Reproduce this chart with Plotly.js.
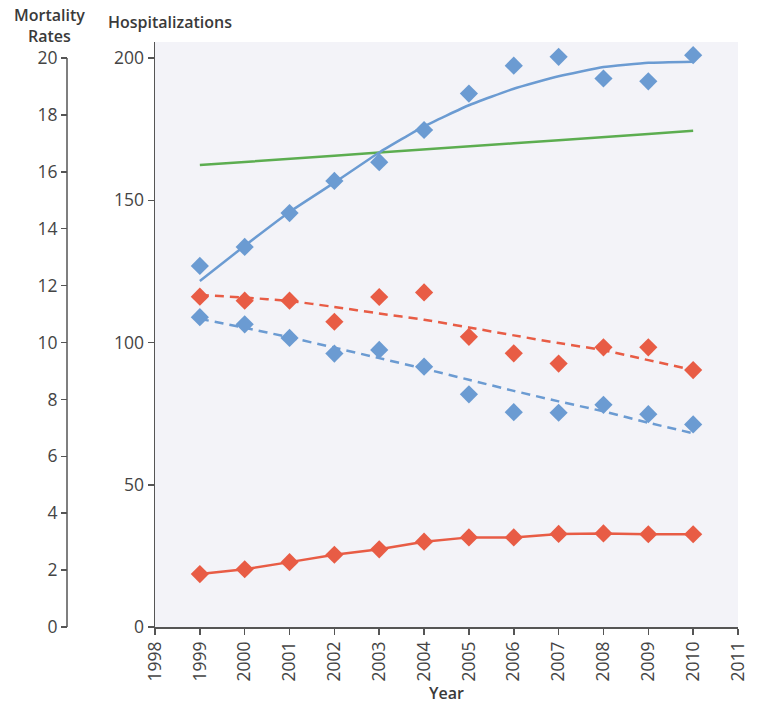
<!DOCTYPE html>
<html>
<head>
<meta charset="utf-8">
<script src="https://cdn.plot.ly/plotly-3.0.1.min.js"></script>
<style>
  html, body { margin: 0; padding: 0; background: #fff; }
  #grafico { width: 762px; height: 710px; }
</style>
</head>
<body>
<div id="grafico"></div>
<script>
// años
const years = [1999, 2000, 2001, 2002, 2003, 2004, 2005, 2006, 2007, 2008, 2009, 2010];

// hospitalizaciones (eje interno, 0-200)
const hospAzulPuntos = [126.9, 133.6, 145.5, 156.8, 163.4, 174.7, 187.5, 197.3, 200.4, 192.8, 191.8, 201.0];
const hospAzulAjuste = [121.6, 134.0, 145.9, 156.2, 166.8, 176.0, 183.4, 189.2, 193.6, 196.8, 198.3, 198.7];
const hospVerde = [162.4, 163.4, 164.6, 165.6, 166.8, 167.8, 168.9, 170.0, 171.1, 172.3, 173.3, 174.4];
const hospRojo = [18.6, 20.3, 22.8, 25.4, 27.3, 30.0, 31.5, 31.5, 32.7, 32.9, 32.6, 32.6];

// mortalidad (eje izquierdo, 0-20)
const mortRojoPuntos = [11.61, 11.47, 11.47, 10.73, 11.60, 11.76, 10.20, 9.62, 9.26, 9.83, 9.83, 9.03];
const mortRojoAjuste = [11.67, 11.58, 11.46, 11.25, 11.02, 10.80, 10.53, 10.25, 9.98, 9.73, 9.38, 9.03];
const mortAzulPuntos = [10.89, 10.64, 10.16, 9.61, 9.74, 9.15, 8.18, 7.55, 7.53, 7.81, 7.48, 7.12];
const mortAzulAjuste = [10.83, 10.52, 10.18, 9.82, 9.45, 9.08, 8.69, 8.30, 7.93, 7.58, 7.18, 6.81];

const xTicks = [1998, 1999, 2000, 2001, 2002, 2003, 2004, 2005, 2006, 2007, 2008, 2009, 2010, 2011];
const hospTicks = [0, 50, 100, 150, 200];
const mortTicks = [0, 2, 4, 6, 8, 10, 12, 14, 16, 18, 20];

const AZUL = "#6b9bd2";
const ROJO = "#e85c45";
const VERDE = "#5cad50";
const EJE = "#555";
const TEXTO = "#3a3a3a";
const W = 762, H = 710;

const diamante = (color) => ({ symbol: "diamond", size: 14, color: color, line: { width: 0 } });

const trazas = [
  { x: years, y: hospVerde, mode: "lines", line: { color: VERDE, width: 2.5 } },
  { x: years, y: hospAzulAjuste, mode: "lines", line: { color: AZUL, width: 2.5, shape: "spline", smoothing: 0.4 } },
  { x: years, y: hospAzulPuntos, mode: "markers", marker: diamante(AZUL) },
  { x: years, y: mortRojoAjuste, yaxis: "y2", mode: "lines", line: { color: ROJO, width: 2.5, dash: "9px,6px", shape: "spline", smoothing: 0.4 } },
  { x: years, y: mortRojoPuntos, yaxis: "y2", mode: "markers", marker: diamante(ROJO) },
  { x: years, y: mortAzulAjuste, yaxis: "y2", mode: "lines", line: { color: AZUL, width: 2.5, dash: "9px,6px", shape: "spline", smoothing: 0.4 } },
  { x: years, y: mortAzulPuntos, yaxis: "y2", mode: "markers", marker: diamante(AZUL) },
  { x: years, y: hospRojo, mode: "lines+markers", line: { color: ROJO, width: 2.5 }, marker: diamante(ROJO) }
];

const fuente = { family: "Open Sans, Noto Sans, sans-serif", size: 17.5, color: "#444" };
const fuenteTitulo = { family: "Open Sans, Noto Sans, sans-serif", size: 16, color: TEXTO, weight: 600 };
const yMaxHosp = (627 - 42) / 2.845;

const layout = {
  width: W,
  height: H,
  margin: { l: 0, r: 0, t: 0, b: 0 },
  paper_bgcolor: "#ffffff",
  plot_bgcolor: "#f3f3f8",
  showlegend: false,
  font: fuente,
  xaxis: {
    domain: [155 / W, 738 / W],
    range: [1998, 2011],
    tickvals: xTicks,
    ticktext: xTicks.map(String),
    tickangle: -90,
    ticks: "outside",
    ticklen: 6,
    tickwidth: 1.5,
    tickcolor: EJE,
    showline: true,
    linecolor: EJE,
    linewidth: 1.5,
    showgrid: false,
    zeroline: false,
    tickfont: fuente
  },
  yaxis: {
    domain: [1 - 627 / H, 1 - 42 / H],
    range: [0, yMaxHosp],
    tickvals: hospTicks,
    ticks: "outside",
    ticklen: 6,
    tickwidth: 1.5,
    tickcolor: EJE,
    showline: true,
    linecolor: EJE,
    linewidth: 1.5,
    showgrid: false,
    zeroline: false,
    tickfont: fuente
  },
  yaxis2: {
    overlaying: "y",
    anchor: "free",
    position: 67 / W,
    side: "left",
    range: [0, yMaxHosp / 10],
    tickvals: mortTicks,
    ticks: "outside",
    ticklen: 6,
    tickwidth: 1.5,
    tickcolor: EJE,
    showline: false,
    showgrid: false,
    zeroline: false,
    tickfont: fuente
  },
  shapes: [
    { type: "line", xref: "paper", yref: "y2", x0: 67 / W, x1: 67 / W, y0: 0, y1: 20, line: { color: EJE, width: 1.5 } }
  ],
  annotations: [
    { text: "Mortality", xref: "paper", yref: "paper", x: 49 / W, y: 1 - 15 / H, xanchor: "center", yanchor: "middle", showarrow: false, font: fuenteTitulo },
    { text: "Rates", xref: "paper", yref: "paper", x: 49 / W, y: 1 - 36 / H, xanchor: "center", yanchor: "middle", showarrow: false, font: fuenteTitulo },
    { text: "Hospitalizations", xref: "paper", yref: "paper", x: 170 / W, y: 1 - 22 / H, xanchor: "center", yanchor: "middle", showarrow: false, font: fuenteTitulo },
    { text: "Year", xref: "paper", yref: "paper", x: 446 / W, y: 1 - 693 / H, xanchor: "center", yanchor: "middle", showarrow: false, font: fuenteTitulo }
  ]
};

Plotly.newPlot("grafico", trazas, layout, { staticPlot: true });
</script>
</body>
</html>
